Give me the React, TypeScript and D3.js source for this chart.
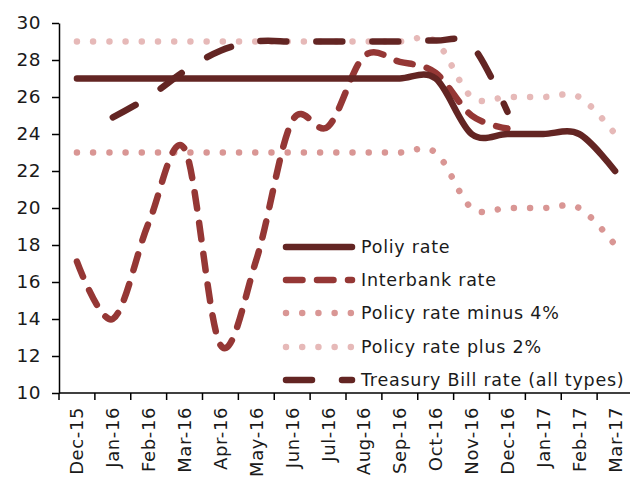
import React, { useEffect, useRef } from 'react';
import * as d3 from 'd3';

const months = [
  'Dec-15', 'Jan-16', 'Feb-16', 'Mar-16', 'Apr-16', 'May-16', 'Jun-16', 'Jul-16',
  'Aug-16', 'Sep-16', 'Oct-16', 'Nov-16', 'Dec-16', 'Jan-17', 'Feb-17', 'Mar-17',
];

const policyRate = [27, 27, 27, 27, 27, 27, 27, 27, 27, 27, 27, 24, 24, 24, 24, 22];
const interbankRate = [17.1, 14.0, 19.2, 23.2, 12.6, 17.2, 24.7, 24.4, 28.2, 27.9, 27.3, 25.0, 24.3, null, null, null];
const policyMinus4 = [23, 23, 23, 23, 23, 23, 23, 23, 23, 23, 23, 20, 20, 20, 20, 18];
const policyPlus2 = [29, 29, 29, 29, 29, 29, 29, 29, 29, 29, 29, 26, 26, 26, 26, 24];
const treasuryBill = [null, 24.9, 26.0, 27.4, 28.5, 29.0, 29.0, 29.0, 29.0, 29.0, 29.05, 28.8, 25.2, null, null, null];

const yTicks = [10, 12, 14, 16, 18, 20, 22, 24, 26, 28, 30];

const seriesNames = [
  'Poliy rate',
  'Interbank rate',
  'Policy rate minus 4%',
  'Policy rate plus 2%',
  'Treasury Bill rate (all types)',
];

const FONT = '"DejaVu Sans", sans-serif';

const App = () => {
  const ref = useRef<SVGSVGElement>(null);

  useEffect(() => {
    const svg = d3.select(ref.current);
    svg.selectAll('*').remove();

    const x = d3.scaleBand().domain(months).range([59, 633]).padding(0);
    const y = d3.scaleLinear().domain([10, 30]).range([393, 23]);
    const cx = (m: string) => (x(m) as number) + x.bandwidth() / 2;

    const series = [
      { name: seriesNames[0], values: policyRate, color: '#632523', dash: null },
      { name: seriesNames[1], values: interbankRate, color: '#953735', dash: '16.5 14.5' },
      { name: seriesNames[2], values: policyMinus4, color: '#D99694', dash: '0.01 16.2' },
      { name: seriesNames[3], values: policyPlus2, color: '#E6B9B8', dash: '0.01 16.2' },
      { name: seriesNames[4], values: treasuryBill, color: '#632523', dash: '26 30' },
    ];

    // axes
    const yAxis = svg
      .append('g')
      .attr('transform', 'translate(59,0)')
      .call(d3.axisLeft(y).tickValues(yTicks).tickSize(7).tickSizeOuter(0).tickPadding(11));
    yAxis.select('.domain').attr('stroke', '#000').attr('stroke-width', 1.5);
    yAxis.selectAll('.tick line').attr('stroke', '#000').attr('stroke-width', 1.5);
    yAxis
      .selectAll('.tick text')
      .attr('font-family', FONT)
      .attr('font-size', 18.5)
      .attr('letter-spacing', 0.5)
      .attr('fill', '#1a1a1a');

    const xAxis = svg.append('g');
    xAxis
      .append('line')
      .attr('x1', 59)
      .attr('x2', 633)
      .attr('y1', y(10))
      .attr('y2', y(10))
      .attr('stroke', '#000')
      .attr('stroke-width', 1.5);
    xAxis
      .selectAll('line.tk')
      .data(months.concat(['end']))
      .enter()
      .append('line')
      .attr('class', 'tk')
      .attr('x1', (d) => (d === 'end' ? 633 : (x(d) as number)))
      .attr('x2', (d) => (d === 'end' ? 633 : (x(d) as number)))
      .attr('y1', y(10))
      .attr('y2', y(10) + 7)
      .attr('stroke', '#000')
      .attr('stroke-width', 1.5);
    xAxis
      .selectAll('text')
      .data(months)
      .enter()
      .append('text')
      .attr('transform', (d) => `translate(${cx(d)},${y(10) + 14}) rotate(-90)`)
      .attr('text-anchor', 'end')
      .attr('dominant-baseline', 'central')
      .attr('font-family', FONT)
      .attr('font-size', 18)
      .attr('letter-spacing', 0.6)
      .attr('fill', '#1a1a1a')
      .text((d) => d);

    const line = d3
      .line<number | null>()
      .defined((d) => d !== null)
      .x((d, i) => cx(months[i]))
      .y((d) => y(d as number))
      .curve(d3.curveCardinal.tension(0));

    // dotted bands first, then the rates on top
    const order = [3, 2, 4, 1, 0];
    order.forEach((k) => {
      const s = series[k];
      svg
        .append('path')
        .attr('d', line(s.values))
        .attr('fill', 'none')
        .attr('stroke', s.color)
        .attr('stroke-width', 6.5)
        .attr('stroke-linecap', 'round')
        .attr('stroke-linejoin', 'round')
        .attr('stroke-dasharray', s.dash);
    });

    // legend
    const legend = svg.append('g');
    const rowY = [247, 280, 313, 347, 380];
    series.forEach((s, i) => {
      legend
        .append('line')
        .attr('x1', 286)
        .attr('x2', 352)
        .attr('y1', rowY[i])
        .attr('y2', rowY[i])
        .attr('stroke', s.color)
        .attr('stroke-width', 6.5)
        .attr('stroke-linecap', 'round')
        .attr('stroke-dasharray', s.dash);
      legend
        .append('text')
        .attr('x', 361)
        .attr('y', rowY[i])
        .attr('dominant-baseline', 'central')
        .attr('font-family', FONT)
        .attr('font-size', 17.5)
        .attr('letter-spacing', 0.75)
        .attr('fill', '#1a1a1a')
        .text(s.name);
    });
  }, []);

  return (
    <svg
      ref={ref}
      width={630}
      height={478}
      style={{ position: 'absolute', left: 0, top: 0, background: '#fff' }}
    />
  );
};

export default App;
